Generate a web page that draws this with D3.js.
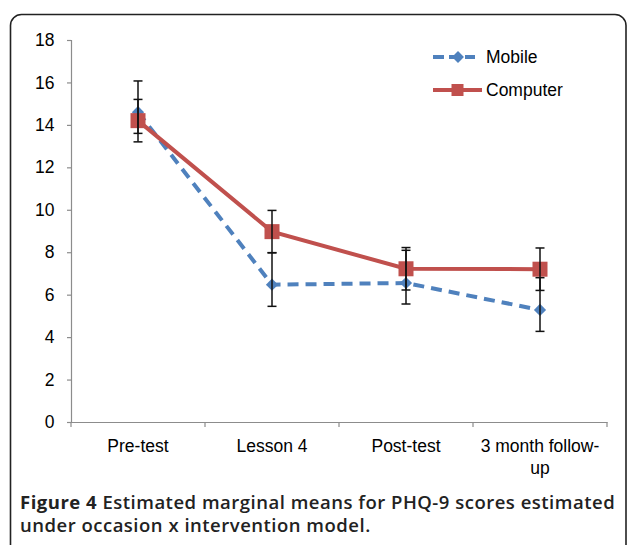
<!DOCTYPE html>
<html><head><meta charset="utf-8">
<script src="https://cdn.jsdelivr.net/npm/d3@7"></script>
<style>body{margin:0;background:#fff}svg{display:block}</style>
</head><body>
<script>
const categories = ["Pre-test", "Lesson 4", "Post-test", "3 month follow-up"];
const categoryLines = [["Pre-test"], ["Lesson 4"], ["Post-test"], ["3 month follow-", "up"]];
const mobileMean = [14.6, 6.47, 6.55, 5.28];
const mobileLow  = [13.6, 5.45, 5.56, 4.27];
const mobileHigh = [16.07, 7.98, 8.09, 6.8];
const computerMean = [14.2, 8.97, 7.22, 7.2];
const computerLow  = [13.2, 7.97, 6.22, 6.2];
const computerHigh = [15.2, 9.97, 8.22, 8.2];
const yTicks = [0, 2, 4, 6, 8, 10, 12, 14, 16, 18];
const seriesNames = ["Mobile", "Computer"];
const captionBold = "Figure 4";
const captionRest1 = " Estimated marginal means for PHQ-9 scores estimated";
const captionLine2 = "under occasion x intervention model.";

const W = 628, H = 545;
const FONT = "Liberation Sans, Arial, sans-serif";
const svg = d3.select("body").append("svg").attr("width", W).attr("height", H);

// frame
svg.append("rect").attr("x", 10.5).attr("y", 14.5).attr("width", 615.5).attr("height", 560)
  .attr("rx", 11).attr("fill", "none").attr("stroke", "#222").attr("stroke-width", 1.6);

const x = d3.scaleBand().domain(categories).range([71, 607]);
const y = d3.scaleLinear().domain([0, 18]).range([422, 40]);

// y axis
const gy = svg.append("g").attr("transform", "translate(71,0)")
  .call(d3.axisLeft(y).tickValues(yTicks).tickSize(4).tickPadding(12.5));
gy.select(".domain").attr("stroke", "#8c8c8c").attr("stroke-width", 1.2);
gy.selectAll(".tick line").attr("stroke", "#8c8c8c").attr("stroke-width", 1.2);
gy.selectAll(".tick text").attr("font-family", FONT)
  .attr("font-size", 17.5).attr("fill", "#000");

// x axis
const gx = svg.append("g").attr("transform", "translate(0,422)")
  .call(d3.axisBottom(x).tickSize(0).tickFormat(""));
gx.select(".domain").attr("stroke", "#8c8c8c").attr("stroke-width", 1.2);
const edges = categories.map(c => x(c)).concat([x.range()[1]]);
svg.append("g").selectAll("line").data(edges).join("line")
  .attr("x1", d => d).attr("x2", d => d).attr("y1", 422).attr("y2", 427)
  .attr("stroke", "#8c8c8c").attr("stroke-width", 1.2);
const xl = svg.append("g").selectAll("text").data(categories).join("text")
  .attr("x", d => x(d) + x.bandwidth() / 2).attr("y", 452)
  .attr("text-anchor", "middle").attr("font-family", FONT)
  .attr("font-size", 17.5).attr("fill", "#000");
xl.each(function(d, i) {
  const t = d3.select(this);
  categoryLines[i].forEach((ln, j) => {
    t.append("tspan").attr("x", x(d) + x.bandwidth() / 2).attr("dy", j ? 22 : 0).text(ln);
  });
});

const cx = i => x(categories[i]) + x.bandwidth() / 2;
const blue = "#4f81bd", red = "#c0504d";
const line = d3.line().x((d, i) => cx(i)).y(d => y(d));

svg.append("path").datum(mobileMean).attr("d", line).attr("fill", "none")
  .attr("stroke", blue).attr("stroke-width", 4).attr("stroke-dasharray", "11,7");
svg.append("path").datum(computerMean).attr("d", line).attr("fill", "none")
  .attr("stroke", red).attr("stroke-width", 4);

const diamond = d3.symbol().type(d3.symbolDiamond2).size(95);
svg.append("g").selectAll("path").data(mobileMean).join("path")
  .attr("d", diamond).attr("transform", (d, i) => `translate(${cx(i)},${y(d)})`).attr("fill", blue);
svg.append("g").selectAll("rect").data(computerMean).join("rect")
  .attr("x", (d, i) => cx(i) - 7.5).attr("y", d => y(d) - 7.5).attr("width", 15).attr("height", 15)
  .attr("fill", red);

// error bars
function errBars(low, high) {
  const g = svg.append("g").attr("stroke", "#111").attr("stroke-width", 1.5);
  low.forEach((lo, i) => {
    const hi = high[i], c = cx(i);
    g.append("line").attr("x1", c).attr("x2", c).attr("y1", y(lo)).attr("y2", y(hi));
    g.append("line").attr("x1", c - 4.5).attr("x2", c + 4.5).attr("y1", y(lo)).attr("y2", y(lo));
    g.append("line").attr("x1", c - 4.5).attr("x2", c + 4.5).attr("y1", y(hi)).attr("y2", y(hi));
  });
}
errBars(mobileLow, mobileHigh);
errBars(computerLow, computerHigh);

// legend
const leg = svg.append("g");
leg.append("line").attr("x1", 433).attr("x2", 475).attr("y1", 57).attr("y2", 57)
  .attr("stroke", blue).attr("stroke-width", 4).attr("stroke-dasharray", "11,5");
leg.append("path").attr("d", d3.symbol().type(d3.symbolDiamond2).size(90))
  .attr("transform", "translate(458,57)").attr("fill", blue);
leg.append("line").attr("x1", 433).attr("x2", 482).attr("y1", 90).attr("y2", 90)
  .attr("stroke", red).attr("stroke-width", 4);
leg.append("rect").attr("x", 451.5).attr("y", 84).attr("width", 12).attr("height", 12).attr("fill", red);
leg.selectAll("text").data(seriesNames).join("text")
  .attr("x", 486).attr("y", (d, i) => i ? 90 : 57).attr("dy", "0.35em")
  .attr("font-family", FONT).attr("font-size", 17.5).text(d => d);

// caption
const capFont = "Open Sans, sans-serif";
const cap = svg.append("text").attr("x", 20).attr("y", 509)
  .attr("font-family", capFont).attr("font-size", 18.5).attr("fill", "#222")
  .attr("letter-spacing", 0.5);
cap.append("tspan").attr("font-weight", 700).text(captionBold);
cap.append("tspan").attr("font-weight", 600).text(captionRest1);
svg.append("text").attr("x", 20).attr("y", 532)
  .attr("font-family", capFont).attr("font-size", 18.5).attr("fill", "#222")
  .attr("letter-spacing", 0.5).attr("font-weight", 600).text(captionLine2);
</script>
</body></html>
